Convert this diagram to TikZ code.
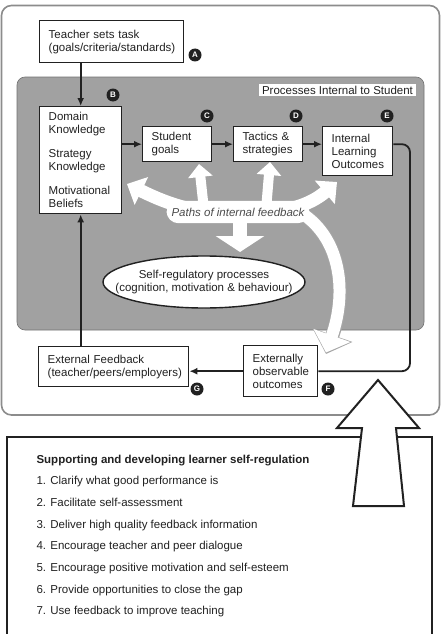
\documentclass[tikz,border=0pt]{standalone}
\usepackage{fontspec}
\setmainfont{Liberation Sans}
\usetikzlibrary{arrows.meta,shapes.geometric}
\definecolor{ink}{gray}{0.13}
\definecolor{procgray}{gray}{0.63}
\definecolor{frame}{gray}{0.55}
\definecolor{pathtxt}{gray}{0.3}
\begin{document}
\begin{tikzpicture}[x=1pt,y=-1pt,
  txt/.style={font=\fontsize{11.5}{13}\selectfont, text=ink},
  box/.style={txt, draw=ink, line width=1.4pt, fill=white, anchor=north west,
              inner xsep=9pt, inner ysep=0pt, align=left},
  tag/.style={circle, fill=ink, minimum size=13pt, inner sep=0pt, text=white,
              font=\fontsize{8}{8}\selectfont\bfseries},
  link/.style={draw=ink, line width=1.8pt, -{Latex[length=8pt,width=7pt]}},
  wide/.style={white, line width=13pt},
]
\useasboundingbox (0,0) rectangle (443,634);
\fill[white] (0,0) rectangle (443,634);

% outer frame
\draw[frame, line width=1.6pt, rounded corners=10pt] (1.5,5.5) rectangle (439.5,415);

% grey region (processes internal to student)
\fill[procgray, rounded corners=8pt] (17,77) rectangle (424,330);
\draw[black!55, line width=0.6pt, rounded corners=8pt] (17,77) rectangle (424,330);

% white paths of internal feedback
\draw[black!35, line width=14pt, -{Triangle[width=41pt,length=20pt]}]
  (298,211) .. controls (340,235) and (348,290) .. (326,354);
\draw[wide, {Triangle[width=30pt,length=16pt]}-{Triangle[width=30pt,length=16pt]}]
  (127,184) .. controls (160,200) and (190,214) .. (238,214)
            .. controls (285,214) and (310,205) .. (337,182);
\draw[white, line width=10pt, -{Triangle[width=24pt,length=13pt]}] (204,210) -- (199,164);
\draw[white, line width=10pt, -{Triangle[width=24pt,length=13pt]}] (266,210) -- (270,162);
\draw[white, line width=14pt, -{Triangle[width=48pt,length=16pt]}] (240,214) -- (240,252);
\draw[white, line width=12pt, -{Triangle[width=38pt,length=18pt]}]
  (298,211) .. controls (340,235) and (348,290) .. (326,352.5);
\node[fill=white, rounded corners=12pt, inner xsep=5pt, inner ysep=7pt, text=pathtxt,
      font=\fontsize{11.5}{13}\selectfont\itshape] (paths) at (238,212) {Paths of internal feedback};

\node[txt, fill=white, inner xsep=3pt, inner ysep=2pt] (pits) at (337.5,90) {Processes Internal to Student};

% ellipse
\node[ellipse, draw=ink, line width=1.4pt, fill=white, minimum width=202pt, minimum height=52pt,
      inner sep=0pt] (srp) at (204,282) {};
\node[txt, align=center] (srptext) at (srp.center) {Self-regulatory processes\\(cognition, motivation \& behaviour)};

% boxes
\node[box, text width=126pt, minimum height=42pt] (teacher) at (39,20) {Teacher sets task\\(goals/criteria/standards)};
\node[box, text width=64pt, minimum height=107pt] (dom) at (39,106)
  {Domain\\Knowledge\\[11pt]Strategy\\Knowledge\\[11pt]Motivational\\Beliefs};
\node[box, text width=51pt, minimum height=35pt] (sg) at (142,126) {Student\\goals};
\node[box, text width=51pt, minimum height=35pt] (tac) at (233,126) {Tactics \&\\strategies};
\node[box, text width=52pt, minimum height=49pt] (ilo) at (322,126) {Internal\\Learning\\Outcomes};
\node[box, text width=132pt, minimum height=40pt] (fb) at (38,346) {External Feedback\\(teacher/peers/employers)};
\node[box, text width=56pt, minimum height=51pt] (ext) at (243,345) {Externally\\observable\\outcomes};

% letter tags
\node[tag] (tA) at (195,55) {A};
\node[tag] (tB) at (113,95) {B};
\node[tag] (tC) at (207,116) {C};
\node[tag] (tD) at (296,116) {D};
\node[tag] (tE) at (387,116) {E};
\node[tag] (tF) at (328,389) {F};
\node[tag] (tG) at (197,389) {G};

% connectors
\draw[link] (teacher.south -| dom.north) -- (dom.north);
\draw[link] (fb.north -| dom.south) -- (dom.south);
\draw[link] (dom.east |- sg.west) -- (sg.west);
\draw[link] (sg.east) -- (tac.west);
\draw[link] (tac.east) -- (tac.east -| ilo.west);
\coordinate (bend) at (410,0);
\draw[ink, line width=1.8pt, rounded corners=8pt]
  (ilo.east |- tac.east) -- (bend |- tac.east) -- (bend |- ext.east) -- (ext.east);
\draw[link] (ext.west) -- (ext.west -| fb.east);

% bottom box
\draw[ink, line width=2pt] (7,650) -- (7,437) -- (432,437) -- (432,650);

% big hollow arrow
\draw[ink, line width=2pt, fill=white, line join=miter]
  (378,380) -- (419,428) -- (396,428) -- (404,506) -- (353,506) -- (362,428) -- (337,428) -- cycle;

% list
\node[txt, anchor=base west, font=\fontsize{11.5}{13}\selectfont\bfseries] (head) at (33,463)
  {Supporting and developing learner self-regulation};
\foreach \t [count=\i] in {Clarify what good performance is,
  Facilitate self-assessment,
  Deliver high quality feedback information,
  Encourage teacher and peer dialogue,
  Encourage positive motivation and self-esteem,
  Provide opportunities to close the gap,
  Use feedback to improve teaching}
  \node[txt, anchor=base west] (item\i) at (33,{463+21.67*\i}) {\i. \t};
\end{tikzpicture}
\end{document}
